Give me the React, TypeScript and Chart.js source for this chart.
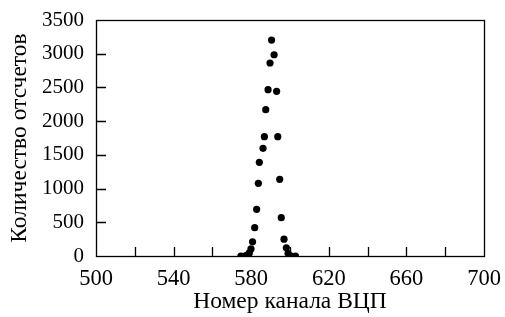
import { useEffect, useRef } from "react";
import { Chart, registerables } from "chart.js";

Chart.register(...registerables);

const channels = [574.7, 577.2, 579.0, 579.9, 580.7, 581.8, 582.8, 583.7, 584.2, 586.1, 586.8, 587.5, 588.7, 589.7, 590.5, 591.8, 593.1, 593.7, 594.7, 595.5, 596.9, 598.1, 599.0, 600.3, 602.8];
const counts = [0, 5, 45, 105, 210, 420, 692, 1078, 1389, 1597, 1770, 2170, 2466, 2862, 3203, 2985, 2442, 1770, 1137, 568, 250, 122, 40, 3, 0];
const xTickValues = [500, 520, 540, 560, 580, 600, 620, 640, 660, 680, 700];
const xLabelValues = [500, 540, 580, 620, 660, 700];
const yTickValues = [0, 500, 1000, 1500, 2000, 2500, 3000, 3500];
const xTitle = "Номер канала ВЦП";
const yTitle = "Количество отсчетов";

const FONT = "'Liberation Serif', 'Times New Roman', serif";

const frame = {
  id: "frame",
  afterDatasetsDraw(chart: any) {
    const { ctx, chartArea: a, scales } = chart;
    ctx.save();
    ctx.strokeStyle = "#000";
    ctx.lineWidth = 1.3;
    ctx.beginPath();
    for (const v of xTickValues) {
      if (v === 500 || v === 700) continue;
      const px = Math.round(scales.x.getPixelForValue(v)) + 0.5;
      ctx.moveTo(px, a.bottom);
      ctx.lineTo(px, a.bottom - 9);
    }
    for (const v of yTickValues) {
      if (v === 0 || v === 3500) continue;
      const py = Math.round(scales.y.getPixelForValue(v)) + 0.5;
      ctx.moveTo(a.left, py);
      ctx.lineTo(a.left + 10, py);
    }
    ctx.stroke();
    ctx.strokeRect(Math.round(a.left) + 0.5, Math.round(a.top) + 0.5, Math.round(a.right - a.left), Math.round(a.bottom - a.top));
    ctx.restore();
  },
};

export default function App() {
  const ref = useRef<HTMLCanvasElement>(null);
  useEffect(() => {
    document.body.style.margin = "0";
    const chart = new Chart(ref.current!, {
      type: "scatter",
      data: {
        datasets: [
          {
            data: channels.map((c, i) => ({ x: c, y: counts[i] })),
            backgroundColor: "#000",
            borderColor: "#000",
            pointRadius: 3.6,
            pointHoverRadius: 3.6,
            borderWidth: 0,
          },
        ],
      },
      options: {
        animation: false,
        responsive: false,
        maintainAspectRatio: false,
        layout: { padding: { top: 20, right: 21, bottom: 0, left: 0 } },
        plugins: { legend: { display: false }, tooltip: { enabled: false } },
        scales: {
          x: {
            type: "linear",
            min: 500,
            max: 700,
            afterBuildTicks: (s: any) => {
              s.ticks = xTickValues.map((v) => ({ value: v }));
            },
            afterFit: (s: any) => {
              s.height = 61;
            },
            grid: { display: false },
            border: { display: false },
            ticks: {
              autoSkip: false,
              maxRotation: 0,
              padding: 2,
              color: "#000",
              font: { family: FONT, size: 22.5 },
              callback: (v: any) => (xLabelValues.includes(Number(v)) ? String(v) : ""),
            },
            title: {
              display: true,
              text: xTitle,
              color: "#000",
              font: { family: FONT, size: 23.5 },
              padding: { top: 0, bottom: 1 },
            },
          },
          y: {
            type: "linear",
            min: 0,
            max: 3500,
            afterBuildTicks: (s: any) => {
              s.ticks = yTickValues.map((v) => ({ value: v }));
            },
            afterFit: (s: any) => {
              s.width = 96;
            },
            grid: { display: false },
            border: { display: false },
            ticks: {
              padding: 4,
              color: "#000",
              font: { family: FONT, size: 21 },
              callback: (v: any) => String(v),
            },
            title: {
              display: true,
              text: yTitle,
              color: "#000",
              font: { family: FONT, size: 23.5 },
              padding: { top: 6, bottom: 0 },
            },
          },
        },
      },
      plugins: [frame],
    });
    return () => chart.destroy();
  }, []);
  return (
    <div style={{ position: "fixed", left: 0, top: 0, width: 505, height: 317, background: "#fff" }}>
      <canvas ref={ref} width={505} height={317} style={{ width: 505, height: 317 }} />
    </div>
  );
}
